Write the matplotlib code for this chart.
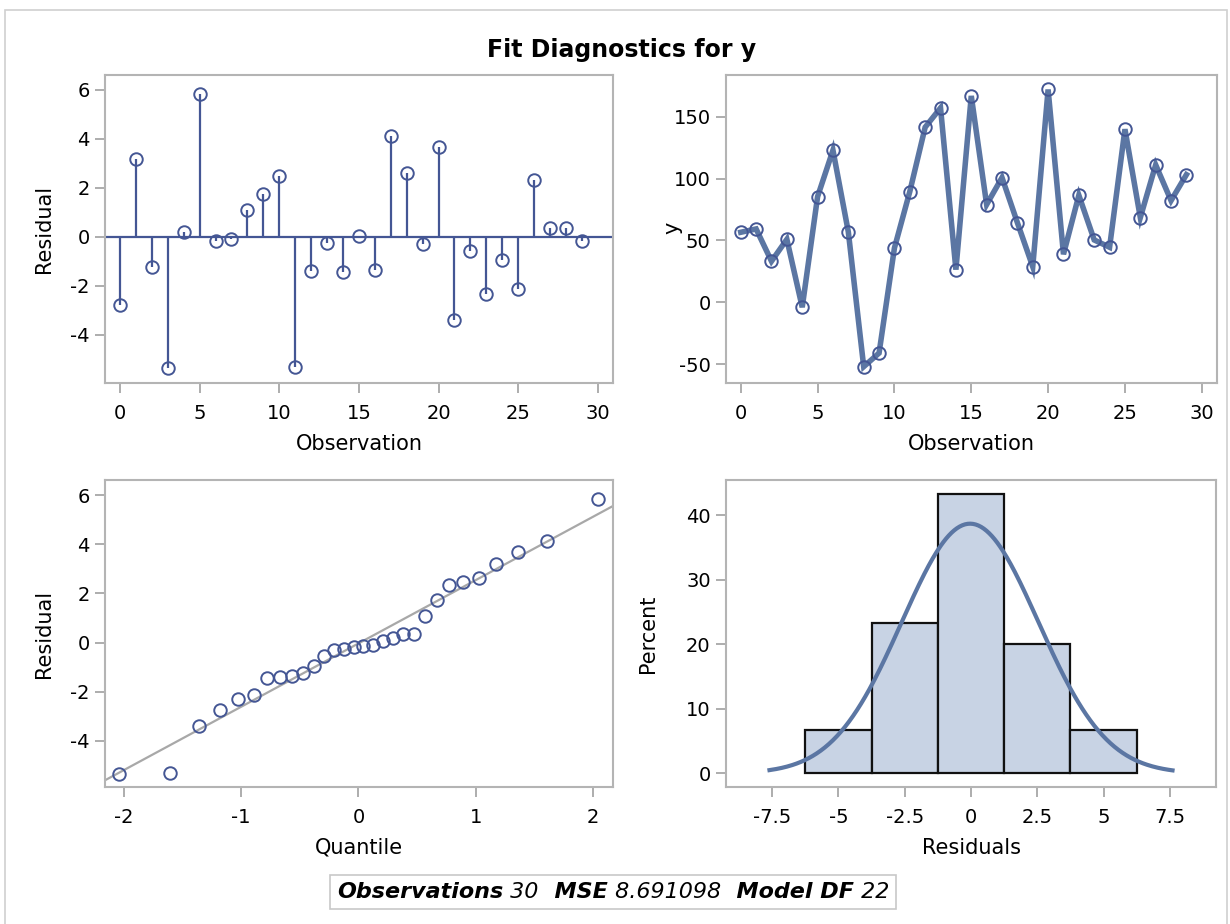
import statistics
import numpy as np
import matplotlib
matplotlib.use("Agg")
import matplotlib.pyplot as plt
from matplotlib.patches import Rectangle
from matplotlib.offsetbox import TextArea, HPacker, AnchoredOffsetbox
from matplotlib.ticker import FuncFormatter

plt.rcParams["font.family"] = ["DejaVu Sans"]
plt.rcParams["axes.unicode_minus"] = False

# ---- data -------------------------------------------------------------
observation = list(range(30))

residual = [-2.76, 3.18, -1.23, -5.33, 0.20, 5.85, -0.15, -0.08, 1.09, 1.74,
            2.47, -5.30, -1.40, -0.24, -1.42, 0.05, -1.36, 4.14, 2.62, -0.30,
            3.69, -3.40, -0.56, -2.31, -0.95, -2.14, 2.33, 0.37, 0.35, -0.18]

y_obs = [56.6, 59.3, 33.2, 50.9, -4.0, 85.4, 122.9, 56.9, -52.0, -41.0,
         43.9, 89.5, 141.5, 157.1, 26.4, 166.8, 79.0, 100.8, 64.4, 28.8,
         172.0, 38.8, 86.5, 50.4, 44.5, 139.9, 68.5, 111.1, 82.2, 103.2]

hist_edges = [-6.25, -3.75, -1.25, 1.25, 3.75, 6.25]

fit_stats = [("Observations", "30"), ("MSE", "8.691098"), ("Model DF", "22")]

obs_ticks = [0, 5, 10, 15, 20, 25, 30]
res_ticks = [-4, -2, 0, 2, 4, 6]
y_ticks = [-50, 0, 50, 100, 150]
q_ticks = [-2, -1, 0, 1, 2]
hist_xticks = [-7.5, -5, -2.5, 0, 2.5, 5, 7.5]
hist_yticks = [0, 10, 20, 30, 40]

# ---- styling ----------------------------------------------------------
W, H = 1230, 924
DOT = "#445694"
FIT = "#5b76a3"
FRAME = "#b4b4b4"
TICKC = "#a0a0a0"
TICK_FS = 14
LABEL_FS = 15

fig = plt.figure(figsize=(W / 100, H / 100), dpi=100)


def px_axes(left, right, top, bottom):
    return fig.add_axes([left / W, (H - bottom) / H, (right - left) / W, (bottom - top) / H])


def style(ax):
    for s in ax.spines.values():
        s.set_color(FRAME)
        s.set_linewidth(1.5)
    ax.tick_params(direction="out", length=7, width=1.2, color=TICKC,
                   labelsize=TICK_FS, labelcolor="black")
    ax.tick_params(axis="x", pad=8)
    ax.tick_params(axis="y", pad=4)
    ax.xaxis.set_major_formatter(FuncFormatter(lambda v, p: f"{v:g}"))
    ax.yaxis.set_major_formatter(FuncFormatter(lambda v, p: f"{v:g}"))


ax1 = px_axes(105, 613, 75, 383)
ax2 = px_axes(726, 1217, 75, 383)
ax3 = px_axes(105, 613, 480, 787)
ax4 = px_axes(726, 1216, 480, 787)

# Residual by observation (needle plot)
style(ax1)
ax1.axhline(0, color=DOT, lw=1.6, zorder=2)
ax1.vlines(observation, 0, residual, color=DOT, lw=1.6, zorder=2)
ax1.plot(observation, residual, "o", ms=9, mfc="none", mec=DOT, mew=1.4, zorder=3)
ax1.set_xlim(-0.94, 30.95)
ax1.set_ylim(-5.96, 6.61)
ax1.set_xticks(obs_ticks)
ax1.set_yticks(res_ticks)
ax1.set_xlabel("Observation", fontsize=LABEL_FS, labelpad=8)
ax1.set_ylabel("Residual", fontsize=LABEL_FS, labelpad=12)

# Response by observation
style(ax2)
ax2.plot(observation, y_obs, color=FIT, lw=4, solid_joinstyle="miter", zorder=2)
ax2.plot(observation, y_obs, "o", ms=9, mfc="none", mec=DOT, mew=1.4, zorder=3)
ax2.set_xlim(-0.96, 30.99)
ax2.set_ylim(-65.2, 183.7)
ax2.set_xticks(obs_ticks)
ax2.set_yticks(y_ticks)
ax2.set_xlabel("Observation", fontsize=LABEL_FS, labelpad=8)
ax2.set_ylabel("y", fontsize=LABEL_FS)
ax2.yaxis.set_label_coords((682 - 726) / 491, (383 - 228) / 308)

# Normal quantile plot of residuals
style(ax3)
r = np.array(residual)
n = len(r)
r_sorted = np.sort(r)
nd = statistics.NormalDist()
quant = np.array([nd.inv_cdf((i + 1 - 0.375) / (n + 0.25)) for i in range(n)])
mu, sd = r.mean(), r.std(ddof=1)
ax3.axline((0, mu), slope=sd, color="#a8a8a8", lw=1.6, zorder=2)
ax3.plot(quant, r_sorted, "o", ms=9, mfc="none", mec=DOT, mew=1.4, zorder=3)
ax3.set_xlim(-2.16, 2.17)
ax3.set_ylim(-5.87, 6.61)
ax3.set_xticks(q_ticks)
ax3.set_yticks(res_ticks)
ax3.set_xlabel("Quantile", fontsize=LABEL_FS, labelpad=8)
ax3.set_ylabel("Residual", fontsize=LABEL_FS, labelpad=12)

# Residual histogram with normal density
style(ax4)
ax4.hist(r, bins=hist_edges, weights=np.full(n, 100.0 / n),
         color="#c8d3e4", edgecolor="#111111", linewidth=1.6, zorder=2)
xs = np.linspace(-7.6, 7.6, 300)
bw = hist_edges[1] - hist_edges[0]
dens = 100 * bw * np.exp(-0.5 * ((xs - mu) / sd) ** 2) / (sd * np.sqrt(2 * np.pi))
ax4.plot(xs, dens, color=FIT, lw=3, zorder=3)
ax4.set_xlim(-9.24, 9.24)
ax4.set_ylim(-2.1, 45.5)
ax4.set_xticks(hist_xticks)
ax4.set_yticks(hist_yticks)
ax4.set_xlabel("Residuals", fontsize=LABEL_FS, labelpad=8)
ax4.set_ylabel("Percent", fontsize=LABEL_FS, labelpad=20)

# Title
fig.text(622 / W, (H - 50) / H, "Fit Diagnostics for y", ha="center", va="center",
         fontsize=17, fontweight="bold")

# Fit statistics inset
parts = []
for i, (name, val) in enumerate(fit_stats):
    lead = "  " if i else ""
    parts.append(TextArea(lead + name, textprops=dict(fontsize=16, fontweight="bold",
                                                      fontstyle="italic")))
    parts.append(TextArea(" " + val, textprops=dict(fontsize=16, fontstyle="italic")))
pack = HPacker(children=parts, align="baseline", pad=0, sep=0)
box = AnchoredOffsetbox(loc="center", child=pack, pad=0.5, borderpad=0, frameon=True,
                        bbox_to_anchor=(613 / W, (H - 892) / H),
                        bbox_transform=fig.transFigure)
box.patch.set_edgecolor("#c8c8c8")
box.patch.set_linewidth(1.2)
fig.add_artist(box)

# Outer border
fig.add_artist(Rectangle((5 / W, -0.01), (1227 - 5) / W, (H - 10) / H + 0.01,
                         transform=fig.transFigure, fill=False, edgecolor="#d0d0d0",
                         linewidth=1.2))

fig.savefig("out.png", dpi=100)
